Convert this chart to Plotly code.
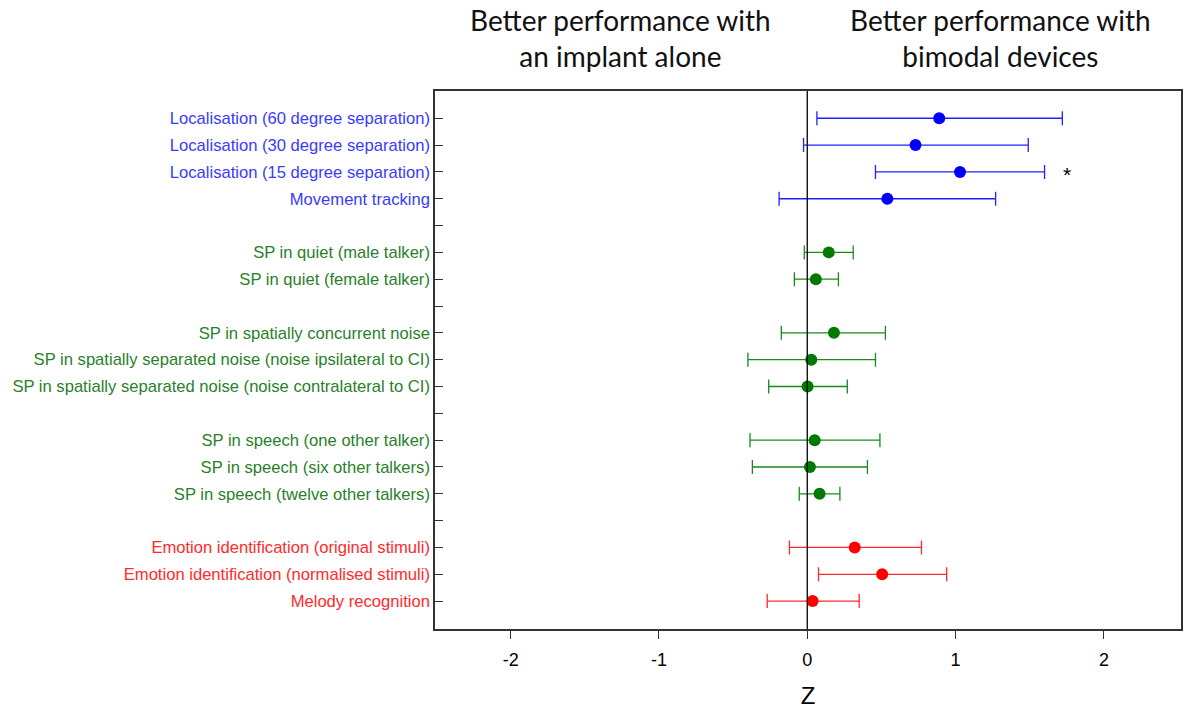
import plotly.graph_objects as go

# ---- data (top to bottom); None marks a blank spacer row ----
labels = [
    "Localisation (60 degree separation)",
    "Localisation (30 degree separation)",
    "Localisation (15 degree separation)",
    "Movement tracking",
    None,
    "SP in quiet (male talker)",
    "SP in quiet (female talker)",
    None,
    "SP in spatially concurrent noise",
    "SP in spatially separated noise (noise ipsilateral to CI)",
    "SP in spatially separated noise (noise contralateral to CI)",
    None,
    "SP in speech (one other talker)",
    "SP in speech (six other talkers)",
    "SP in speech (twelve other talkers)",
    None,
    "Emotion identification (original stimuli)",
    "Emotion identification (normalised stimuli)",
    "Melody recognition",
]
groups = ["loc", "loc", "loc", "loc", None, "sp", "sp", None, "sp", "sp", "sp", None,
          "sp", "sp", "sp", None, "mus", "mus", "mus"]
z_est = [0.89, 0.73, 1.03, 0.54, None, 0.145, 0.058, None, 0.18, 0.027, 0.002, None,
         0.05, 0.018, 0.083, None, 0.32, 0.505, 0.036]
ci_low = [0.065, -0.025, 0.46, -0.19, None, -0.02, -0.087, None, -0.175, -0.40, -0.26, None,
          -0.386, -0.37, -0.054, None, -0.12, 0.076, -0.27]
ci_high = [1.72, 1.49, 1.60, 1.27, None, 0.31, 0.21, None, 0.527, 0.46, 0.27, None,
           0.49, 0.406, 0.22, None, 0.77, 0.94, 0.35]
x_ticks = [-2, -1, 0, 1, 2]
x_tick_text = ["-2", "-1", "0", "1", "2"]

marker_colors = {"loc": "#0000ff", "sp": "#007a00", "mus": "#ff0000"}
bar_colors = {"loc": "#2020ff", "sp": "#1a8a1a", "mus": "#ff2a2a"}
label_colors = {"loc": "#3a3aff", "sp": "#2a7f2a", "mus": "#ff2a2a"}

fig = go.Figure()
for g in ["loc", "sp", "mus"]:
    idx = [i for i, gg in enumerate(groups) if gg == g]
    xs = [z_est[i] for i in idx]
    fig.add_trace(go.Scatter(
        x=xs, y=idx, mode="markers",
        marker=dict(color=marker_colors[g], size=12),
        error_x=dict(type="data", symmetric=False,
                     array=[ci_high[i] - z_est[i] for i in idx],
                     arrayminus=[z_est[i] - ci_low[i] for i in idx],
                     color=bar_colors[g], thickness=1.3, width=7),
        showlegend=False, hoverinfo="skip"))

ticktext = []
for lab, g in zip(labels, groups):
    if lab is None:
        ticktext.append("")
    else:
        ticktext.append(f'<span style="color:{label_colors[g]}">{lab}</span>')

fig.add_shape(type="line", xref="x", yref="paper", x0=0, x1=0, y0=0, y1=1,
              line=dict(color="black", width=1.3))

fig.add_annotation(x=1.75, y=2, xref="x", yref="y", text="*", showarrow=False,
                   font=dict(size=21, color="black", family="Liberation Sans"), yshift=-3)

head_font = dict(family="Lato", size=28, color="#111111")
fig.add_annotation(x=-1.26, y=1, xref="x", yref="paper", yanchor="bottom", yshift=16,
                   text="Better performance with<br>an implant alone", showarrow=False,
                   font=head_font, align="center")
fig.add_annotation(x=1.3, y=1, xref="x", yref="paper", yanchor="bottom", yshift=16,
                   text="Better performance with<br>bimodal devices", showarrow=False,
                   font=head_font, align="center")

fig.update_layout(
    width=1189, height=711,
    margin=dict(l=435, r=6, t=91, b=81),
    paper_bgcolor="white", plot_bgcolor="white",
    font=dict(family="Liberation Sans", color="black"),
    xaxis=dict(range=[-2.51, 2.52], tickvals=x_ticks, ticktext=x_tick_text,
               ticks="outside", ticklen=8, ticklabelstandoff=6,
               tickcolor="#333", showgrid=False, zeroline=False, showline=True,
               linecolor="#333", linewidth=1.5, mirror=True,
               tickfont=dict(size=18, family="Liberation Sans", color="black"),
               title=dict(text="Z", font=dict(size=24, family="Liberation Sans", color="black"),
                          standoff=18)),
    yaxis=dict(range=[19.04, -1.016], tickvals=list(range(len(labels))), ticktext=ticktext,
               ticks="inside", ticklen=8, tickcolor="#333", showgrid=False, zeroline=False,
               showline=True, linecolor="#333", linewidth=1.5, mirror=True,
               tickfont=dict(size=16.6, family="Liberation Sans")),
)

fig.write_html("out.html")
